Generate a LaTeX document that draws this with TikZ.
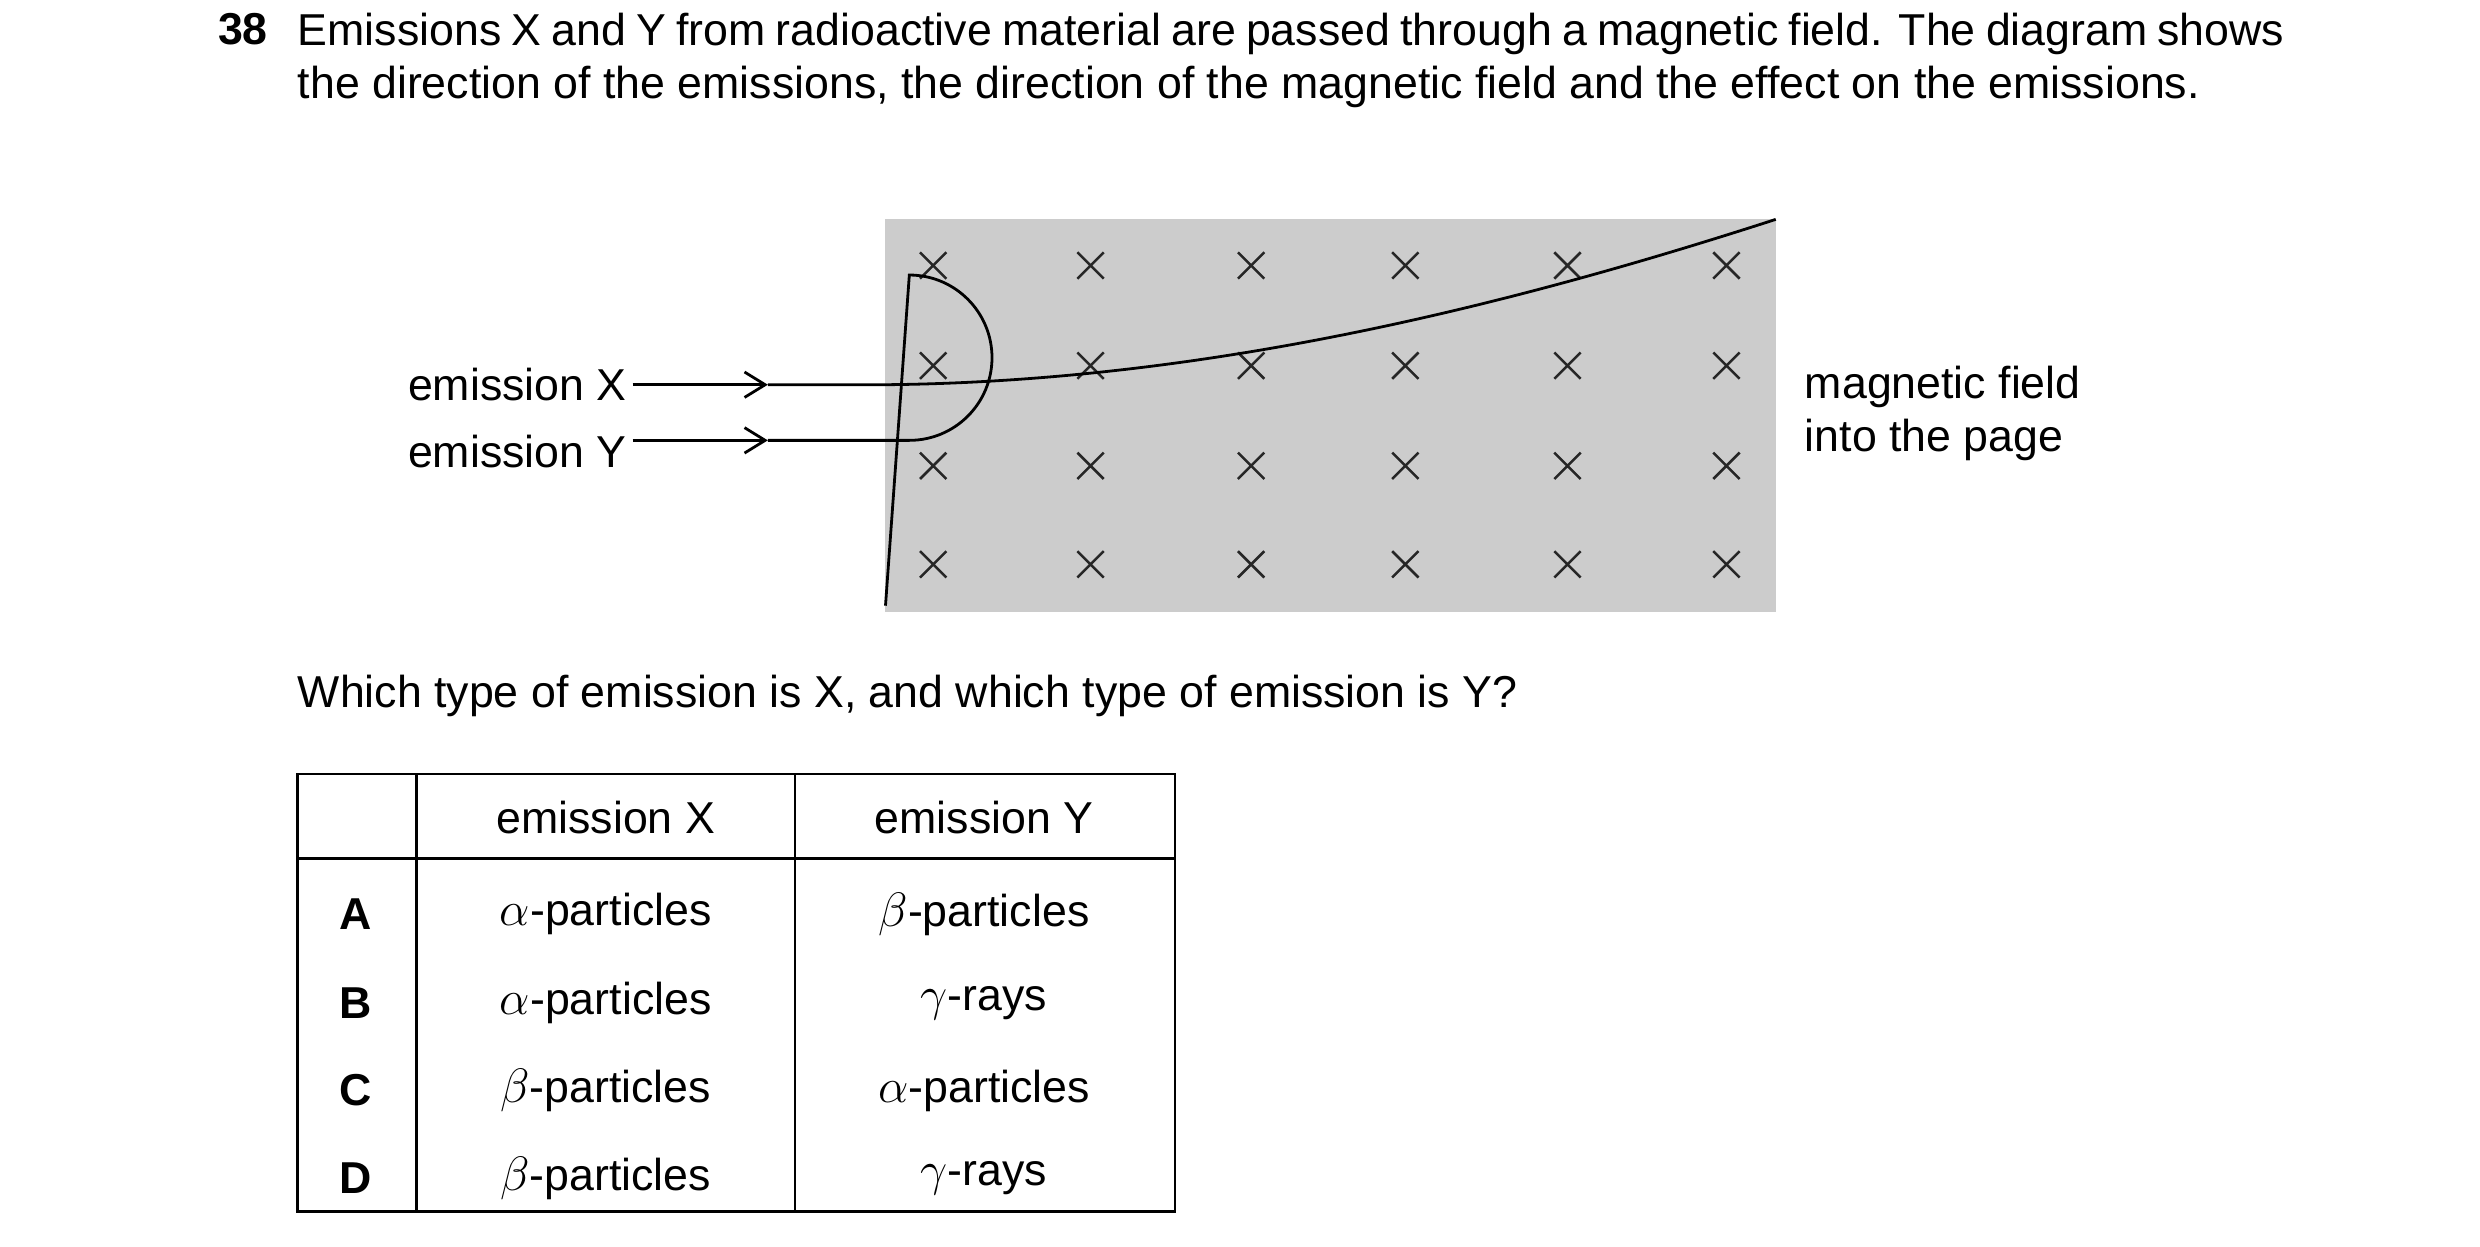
\documentclass[tikz,border=0pt]{standalone}
\usepackage{fontspec}
\setmainfont{Liberation Sans}
\usetikzlibrary{shapes.misc,arrows.meta,positioning}

\begin{document}
\begin{tikzpicture}[x=0.02cm,y=-0.02cm,font=\fontsize{16}{18.8}\selectfont,
    cross/.style={cross out,draw=black!85,line width=0.9pt,minimum size=0.3cm,inner sep=0pt},
    ray/.style={line width=1pt},
    head/.style={-{Straight Barb[length=2.6mm,width=3.2mm]}},
    cell/.style={inner sep=0pt}]
      \useasboundingbox (0,0) rectangle (1560,784);

      % question text
      \node[font=\fontsize{16}{18.8}\selectfont\bfseries,anchor=base west] (num) at (131,28) {38};
      \node[anchor=north west,text width=25cm,align=justify,inner sep=0pt] (intro) at (187,8)
        {Emissions X and Y from radioactive material are passed through a magnetic field. The diagram shows the direction of the emissions, the direction of the magnetic field and the effect on the emissions.};

      % field region
      \fill[black!20] (557,138) rectangle (1117,385);
      \foreach \col [count=\i] in {587,686,787,884,986,1086}
        \foreach \row [count=\j] in {167,230,293,355}
          \node[cross] (x\i\j) at (\col,\row) {};

      % emission labels
      \node[anchor=east,inner sep=2pt] (emX) at (398,242) {emission X};
      \node[anchor=east,inner sep=2pt] (emY) at (398,284) {emission Y};
      \node[anchor=west,align=left,inner sep=0pt] (field) at (1135,260) {magnetic field\\into the page};
      \coordinate (xin) at (557,242);
      \coordinate (xout) at (1117,138);
      \coordinate (yin) at (572,277);
      \coordinate (yout) at (557,381);

      % paths of the emissions
      \draw[ray,head] (emX.east) -- (483,242);
      \draw[ray] (483,242) -- (xin) .. controls (760,240) and (950,192) .. (xout);
      \draw[ray,head] (emY.east |- yin) -- (483,277);
      \draw[ray] (483,277) -- (yin) arc[start angle=90,end angle=-90,radius=52] -- (yout);

      \node[anchor=base west,inner sep=0pt] (ask) at (187,445) {Which type of emission is X, and which type of emission is Y?};

      % answer table
      \draw[line width=0.9pt] (187,487) rectangle (739,762);
      \draw[line width=0.9pt] (262,487) -- (262,762) (500,487) -- (500,762) (187,540) -- (739,540);
      \node[cell] (hX) at (381,514) {emission X};
      \node[cell] (hY) at (619,514) {emission Y};
      \foreach \ltr/\ex/\ey/\yy in {A/$\alpha$-particles/$\beta$-particles/575,
                                    B/$\alpha$-particles/$\gamma$-rays/631,
                                    C/$\beta$-particles/$\alpha$-particles/686,
                                    D/$\beta$-particles/$\gamma$-rays/741}{
        \node[cell,font=\fontsize{16}{18.8}\selectfont\bfseries] (r\ltr) at (224,\yy) {\ltr};
        \node[cell] (e\ltr) at (381,\yy) {\ex};
        \node[cell] (f\ltr) at (619,\yy) {\ey};
      }
\end{tikzpicture}
\end{document}
